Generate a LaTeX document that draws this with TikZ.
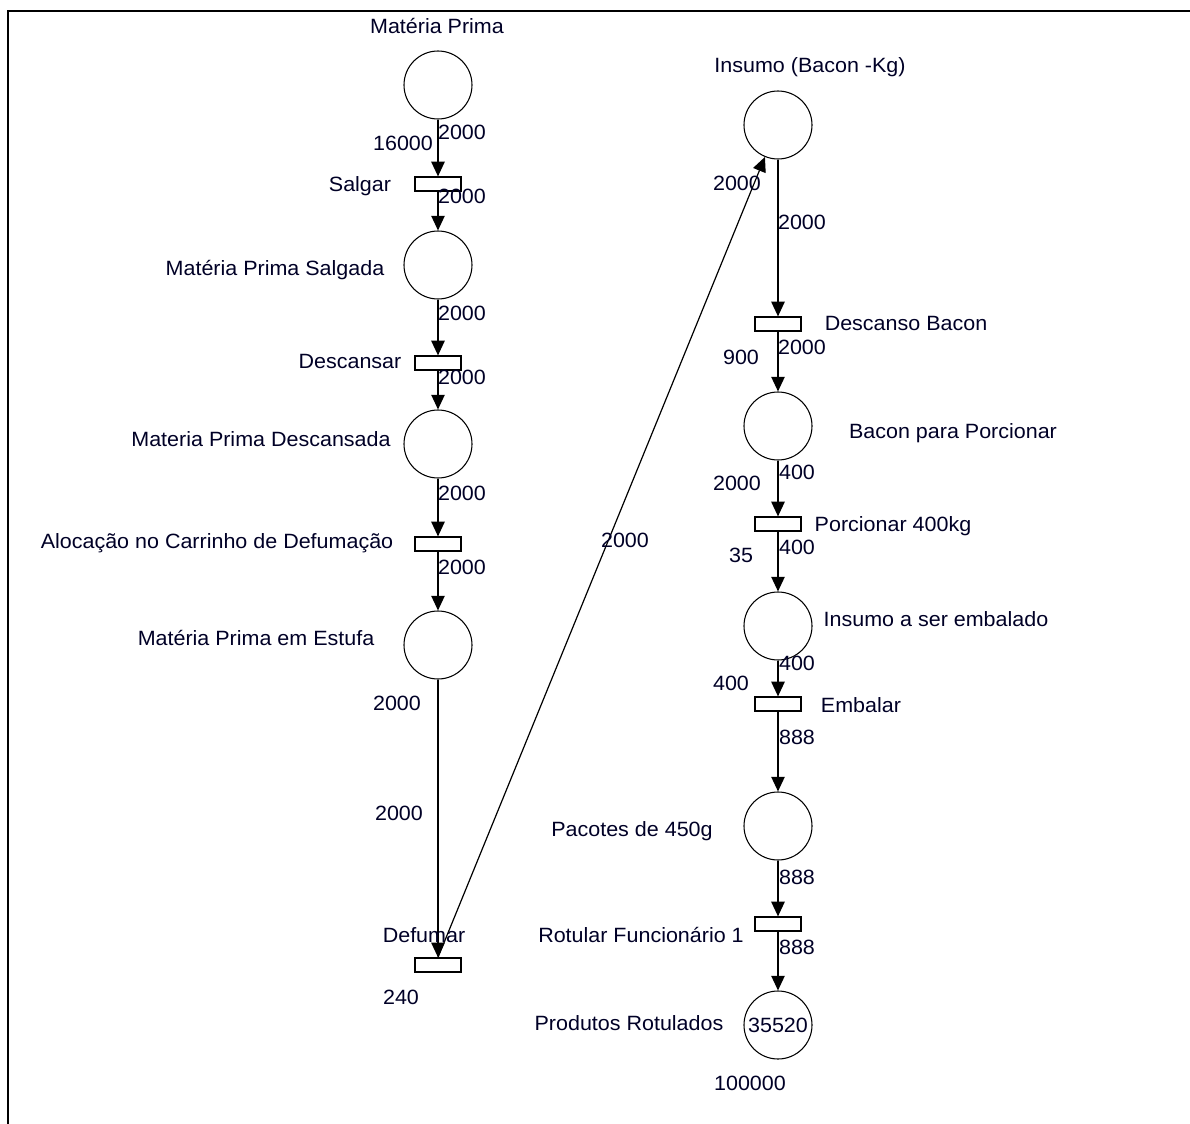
\documentclass[tikz,border=0pt]{standalone}
\usepackage{fontspec}
\setmainfont{Liberation Sans}[FakeStretch=1.04]
\usetikzlibrary{arrows.meta}
\begin{document}
\begin{tikzpicture}[x=0.75pt,y=-0.75pt,
  place/.style={circle,draw,line width=0.8pt,minimum size=51pt,inner sep=0pt,font=\fontsize{15.5}{15.5}\selectfont,text=black!85!blue},
  trans/.style={rectangle,draw,line width=0.9pt,minimum width=34.5pt,minimum height=10.5pt,inner sep=0pt},
  lbl/.style={font=\fontsize{15.5}{15.5}\selectfont,text=black!85!blue,inner sep=0pt},
  arc/.style={line width=1.1pt,-{Triangle[length=11pt,width=10pt]}}]
\useasboundingbox (0,0) rectangle (1190,1124);
\draw[line width=1.6pt] (8,1124) -- (8,11) -- (1190,11);
% left column
\node[place] (mp) at (438,85) {};
\node[trans] (salgar) at (438,184) {};
\node[place] (mps) at (438,265) {};
\node[trans] (descansar) at (438,363) {};
\node[place] (mpd) at (438,444) {};
\node[trans] (alocacao) at (438,544) {};
\node[place] (estufa) at (438,645) {};
\node[trans] (defumar) at (438,965) {};
% right column
\node[place] (insumo) at (778,125) {};
\node[trans] (descanso) at (778,324) {};
\node[place] (bpp) at (778,426) {};
\node[trans] (porcionar) at (778,524) {};
\node[place] (ise) at (778,626) {};
\node[trans] (embalar) at (778,704) {};
\node[place] (pacotes) at (778,826) {};
\node[trans] (rotular) at (778,924) {};
\node[place] (prod) at (778,1025) {35520};
% arcs
\draw[arc] (mp) -- (salgar);
\draw[arc] (salgar) -- (mps);
\draw[arc] (mps) -- (descansar);
\draw[arc] (descansar) -- (mpd);
\draw[arc] (mpd) -- (alocacao);
\draw[arc] (alocacao) -- (estufa);
\draw[arc] (estufa) -- (defumar);
\draw[line width=0.9pt,-{Triangle[length=11pt,width=10pt]}] (defumar.north) -- (insumo);
\draw[arc] (insumo) -- (descanso);
\draw[arc] (descanso) -- (bpp);
\draw[arc] (bpp) -- (porcionar);
\draw[arc] (porcionar) -- (ise);
\draw[arc] (ise) -- (embalar);
\draw[arc] (embalar) -- (pacotes);
\draw[arc] (pacotes) -- (rotular);
\draw[arc] (rotular) -- (prod);
% labels left
\node[lbl] (l1) at (437,26) {Matéria Prima};
\node[lbl] (l2) at (462,132) {2000};
\node[lbl] (l3) at (403,143) {16000};
\node[lbl] (l4) at (360,186) {Salgar};
\node[lbl] (l5) at (462,196) {2000};
\node[lbl] (l6) at (275,270) {Matéria Prima Salgada};
\node[lbl] (l7) at (462,313) {2000};
\node[lbl] (l8) at (350,361) {Descansar};
\node[lbl] (l9) at (462,377) {2000};
\node[lbl] (l10) at (261,439) {Materia Prima Descansada};
\node[lbl] (l11) at (462,493) {2000};
\node[lbl] (l12) at (217,543) {Alocação no Carrinho de Defumação};
\node[lbl] (l13) at (462,567) {2000};
\node[lbl] (l14) at (256,638) {Matéria Prima em Estufa};
\node[lbl] (l15) at (397,703) {2000};
\node[lbl] (l16) at (399,813) {2000};
\node[lbl] (l17) at (424,935) {Defumar};
\node[lbl] (l18) at (401,997) {240};
\node[lbl] (l19) at (625,540) {2000};
% labels right
\node[lbl] (r1) at (810,67) {Insumo (Bacon -Kg)};
\node[lbl] (r2) at (737,183) {2000};
\node[lbl] (r3) at (802,222) {2000};
\node[lbl] (r4) at (906,323) {Descanso Bacon};
\node[lbl] (r5) at (741,357) {900};
\node[lbl] (r6) at (802,347) {2000};
\node[lbl] (r7) at (953,433) {Bacon para Porcionar};
\node[lbl] (r8) at (797,472) {400};
\node[lbl] (r9) at (737,483) {2000};
\node[lbl] (r10) at (893,526) {Porcionar 400kg};
\node[lbl] (r11) at (797,547) {400};
\node[lbl] (r12) at (741,555) {35};
\node[lbl] (r13) at (936,619) {Insumo a ser embalado};
\node[lbl] (r14) at (797,663) {400};
\node[lbl] (r15) at (731,683) {400};
\node[lbl] (r16) at (861,705) {Embalar};
\node[lbl] (r17) at (797,737) {888};
\node[lbl] (r18) at (632,831) {Pacotes de 450g};
\node[lbl] (r19) at (797,877) {888};
\node[lbl] (r20) at (641,935) {Rotular Funcionário 1};
\node[lbl] (r21) at (797,947) {888};
\node[lbl] (r22) at (629,1023) {Produtos Rotulados};
\node[lbl] (r23) at (750,1083) {100000};
\end{tikzpicture}
\end{document}
